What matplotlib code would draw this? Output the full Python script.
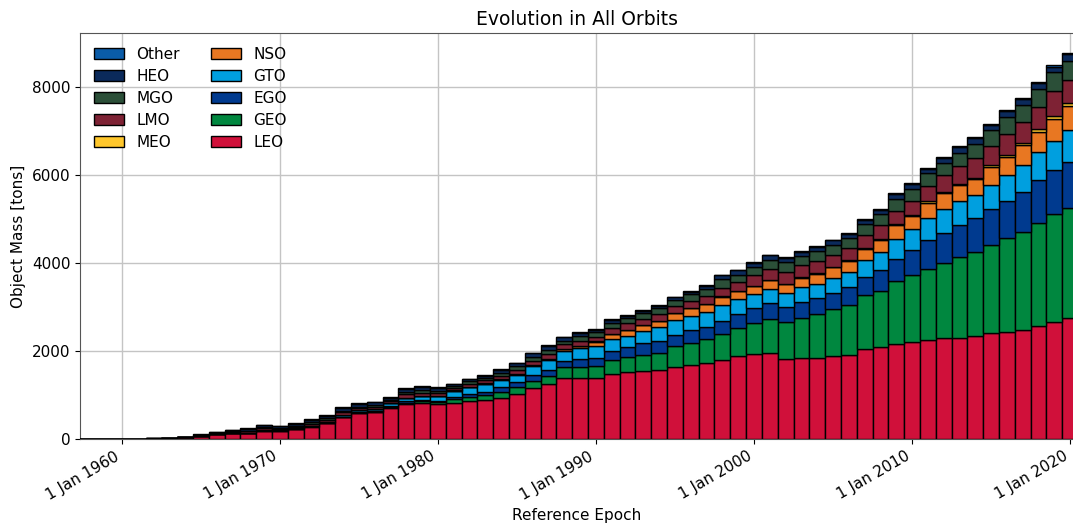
import matplotlib
matplotlib.use("Agg")
import matplotlib.pyplot as plt
import numpy as np

years = list(range(1957, 2021))

LEO = [0, 1, 2,
       3, 6, 10, 15, 35, 65, 107, 130, 130, 190,
       190, 220, 280, 356, 492, 583, 606, 712, 803, 826,
       803, 826, 856, 886, 939, 1015, 1152, 1242, 1394, 1394,
       1385, 1477, 1515, 1545, 1568, 1644, 1682, 1735, 1795, 1886,
       1932, 1947, 1811, 1833, 1833, 1886, 1917, 2038, 2098, 2159,
       2197, 2250, 2288, 2288, 2341, 2402, 2439, 2477, 2568, 2667, 2742]
GEO = [0, 0, 0,
       0, 0, 0, 0, 1, 1, 1, 2, 2, 3,
       3, 4, 5, 6, 8, 10, 12, 15, 25, 30,
       40, 75, 91, 114, 122, 159, 174, 190, 235, 235,
       265, 318, 341, 364, 394, 470, 507, 538, 591, 629,
       697, 773, 841, 925, 1000, 1061, 1128, 1235, 1273, 1439,
       1530, 1629, 1720, 1856, 1917, 2007, 2137, 2235, 2349, 2447, 2516]
EGO = [0, 0, 0,
       0, 0, 0, 0, 0, 1, 2, 2, 3, 4,
       4, 5, 6, 8, 10, 12, 15, 20, 35, 35,
       30, 49, 68, 76, 113, 114, 129, 136, 151, 189,
       202, 205, 227, 265, 265, 257, 288, 280, 303, 326,
       341, 363, 356, 363, 364, 379, 417, 416, 485, 508,
       569, 644, 681, 720, 772, 818, 833, 909, 969, 1000, 1045]
GTO = [0, 0, 0,
       0, 0, 0, 1, 2, 3, 4, 5, 6, 8,
       8, 10, 15, 25, 42, 45, 45, 70, 76, 90,
       100, 141, 159, 174, 167, 167, 204, 227, 220, 243,
       266, 273, 265, 281, 311, 334, 318, 341, 356, 333,
       318, 334, 318, 326, 326, 341, 341, 379, 402, 455,
       477, 515, 553, 545, 531, 561, 606, 621, 644, 666, 720]
NSO = [0, 0, 0,
       0, 0, 0, 0, 0, 0, 0, 0, 0, 0,
       0, 0, 0, 0, 1, 1, 1, 1, 2, 2,
       3, 9, 11, 12, 14, 15, 16, 20, 40, 49,
       94, 106, 129, 136, 144, 151, 175, 174, 190, 190,
       182, 197, 197, 220, 242, 235, 250, 265, 265, 303,
       303, 341, 356, 364, 348, 402, 402, 440, 455, 508, 545]
MEO = [0, 0, 0,
       0, 0, 0, 0, 0, 0, 0, 0, 1, 1,
       1, 1, 1, 1, 1, 1, 1, 1, 2, 2,
       2, 5, 5, 6, 5, 5, 5, 5, 5, 5,
       8, 5, 5, 5, 5, 5, 8, 8, 8, 10,
       10, 10, 10, 12, 12, 15, 15, 15, 18, 20,
       25, 30, 30, 35, 40, 45, 50, 55, 60, 60, 70]
LMO = [0, 0, 0,
       0, 1, 2, 3, 6, 12, 18, 20, 30, 35,
       30, 35, 45, 45, 55, 50, 55, 45, 70, 65,
       60, 65, 70, 72, 80, 95, 100, 110, 105, 115,
       110, 146, 147, 131, 154, 169, 158, 174, 196, 202,
       240, 255, 270, 276, 276, 280, 288, 288, 338, 305,
       308, 341, 372, 397, 453, 432, 465, 475, 508, 561, 536]
MGO = [0, 0, 0,
       0, 0, 1, 1, 3, 8, 10, 14, 20, 22,
       20, 25, 30, 30, 35, 35, 35, 30, 60, 60,
       60, 45, 50, 55, 70, 80, 90, 100, 90, 110,
       110, 114, 113, 144, 129, 129, 152, 159, 190, 166,
       185, 204, 227, 219, 227, 227, 227, 250, 235, 281,
       288, 303, 288, 310, 318, 356, 400, 393, 408, 431, 436]
HEO = [0, 0, 0,
       0, 0, 0, 0, 2, 10, 18, 25, 40, 45,
       37, 44, 58, 52, 58, 56, 62, 50, 74, 75,
       70, 31, 48, 48, 60, 75, 77, 91, 71, 80,
       50, 64, 64, 49, 56, 64, 62, 77, 97, 98,
       97, 96, 96, 86, 86, 94, 92, 92, 106, 104,
       105, 90, 105, 118, 125, 125, 130, 130, 130, 130, 140]
Other = [0, 0, 0,
         1, 1, 2, 3, 4, 6, 7, 7, 10, 10,
         10, 12, 15, 15, 18, 18, 18, 18, 20, 20,
         22, 12, 12, 12, 13, 15, 15, 15, 15, 15,
         15, 12, 12, 12, 12, 12, 14, 14, 16, 16,
         18, 18, 18, 20, 20, 20, 22, 22, 22, 24,
         24, 24, 24, 26, 26, 26, 28, 30, 30, 30, 30]

series_names = ["LEO", "GEO", "EGO", "GTO", "NSO", "MEO", "LMO", "MGO", "HEO", "Other"]
series_values = [LEO, GEO, EGO, GTO, NSO, MEO, LMO, MGO, HEO, Other]
colors = ["#D0103A", "#00873F", "#003A8F", "#009FDF", "#E87722",
          "#FFC72C", "#7E2234", "#2B4F38", "#0B2A5B", "#0A5CA8"]

tick_years = [1960, 1970, 1980, 1990, 2000, 2010, 2020]
tick_labels = ["1 Jan %d" % y for y in tick_years]

plt.rcParams['font.family'] = ['DejaVu Sans']
plt.rcParams['font.size'] = 11

fig = plt.figure(figsize=(10.73, 5.26), dpi=100)
ax = fig.add_axes([80 / 1073, 1 - 439 / 526, 1 - 80 / 1073 + 0.0005, (439 - 33.3) / 526])

x = np.array(years, dtype=float)
bottom = np.zeros(len(years))
handles = []
for name, vals, col in zip(series_names, series_values, colors):
    v = np.array(vals, dtype=float)
    h = ax.bar(x, v, width=1.0, bottom=bottom, color=col, edgecolor="black",
               linewidth=1.0, label=name, zorder=3)
    handles.append(h)
    bottom = bottom + v

ax.set_xlim(1957.35, 2020.22)
ax.set_ylim(0, 9230)
ax.set_yticks([0, 2000, 4000, 6000, 8000])
ax.set_xticks(tick_years)
ax.set_xticklabels(tick_labels, rotation=30, ha="right")
ax.grid(True, color="#c4c4c4", linewidth=1.0, zorder=0)
ax.set_axisbelow(True)
for s in ax.spines.values():
    s.set_color("#555555")

ax.set_title("Evolution in All Orbits", fontsize=13.5)
ax.set_xlabel("Reference Epoch")
ax.set_ylabel("Object Mass [tons]")

leg_handles = handles[::-1]
leg_labels = series_names[::-1]
ax.legend(leg_handles, leg_labels, loc="upper left", ncol=2, frameon=False,
          labelspacing=0.45, columnspacing=2.0)

fig.savefig("out.png", dpi=100)
